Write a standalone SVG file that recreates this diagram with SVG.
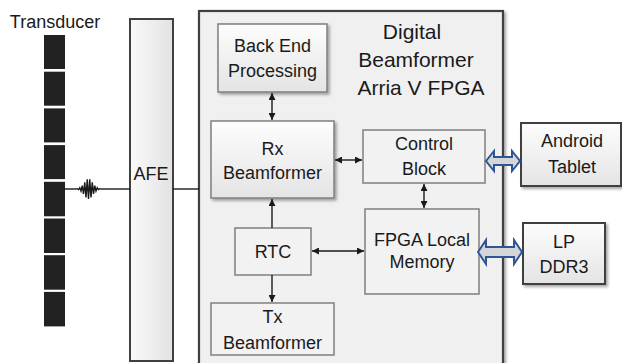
<svg xmlns="http://www.w3.org/2000/svg" width="622" height="363" viewBox="0 0 622 363">
<style>
text{font-family:"Liberation Sans",Arial,sans-serif;font-size:18px;fill:#1a1a1a;text-anchor:middle}
.title{font-size:21px}
.lt{text-anchor:start}
.g{fill:url(#grad);stroke:#7f7f7f;stroke-width:1.5}
.f{fill:#f2f2f2;stroke:#7f7f7f;stroke-width:1.5}
.d{fill:url(#grad);stroke:#404040;stroke-width:2}
.el{fill:#222}
.c{stroke:#1a1a1a;stroke-width:1.4;fill:none}
.ba{fill:#d4d6da;stroke:#2f5597;stroke-width:2;stroke-linejoin:miter}
</style>
<defs>
<linearGradient id="grad" x1="0" y1="0" x2="0" y2="1"><stop offset="0" stop-color="#fdfdfd"/><stop offset="1" stop-color="#e4e4e4"/></linearGradient>
<linearGradient id="gradh" x1="0" y1="0" x2="1" y2="0"><stop offset="0" stop-color="#fafafa"/><stop offset="1" stop-color="#e2e2e2"/></linearGradient>
<filter id="sh" x="-10%" y="-10%" width="130%" height="130%"><feDropShadow dx="2" dy="2" stdDeviation="1.5" flood-color="#000" flood-opacity="0.35"/></filter>
<marker id="ah" viewBox="0 0 8 8" refX="8" refY="4" markerWidth="7" markerHeight="7" markerUnits="userSpaceOnUse" orient="auto-start-reverse"><path d="M0,0 L8,4 L0,8 z" fill="#1a1a1a"/></marker>
</defs>

<g id="transducer">
<text x="55" y="28">Transducer</text>
<rect class="el" x="44" y="35" width="21" height="34"/>
<rect class="el" x="44" y="71.7" width="21" height="34"/>
<rect class="el" x="44" y="108.4" width="21" height="34"/>
<rect class="el" x="44" y="145.1" width="21" height="34"/>
<rect class="el" x="44" y="181.8" width="21" height="34.5"/>
<rect class="el" x="44" y="218.5" width="21" height="34.5"/>
<rect class="el" x="44" y="255.2" width="21" height="34.5"/>
<rect class="el" x="44" y="291.9" width="21" height="34.5"/>
</g>

<g id="afe">
<rect x="130" y="19" width="43" height="342" fill="url(#gradh)" stroke="#404040" stroke-width="2"/>
<text x="151" y="180">AFE</text>
</g>

<g id="fpga">
<rect x="199" y="11" width="304" height="360" fill="#f0f0f0" stroke="#404040" stroke-width="2.2" filter="url(#sh)"/>
<text class="title" x="412" y="39">Digital</text>
<text class="title" x="416" y="67">Beamformer</text>
<text class="title" x="421" y="95">Arria V FPGA</text>
</g>

<g id="backend">
<rect class="g" x="218" y="24" width="109" height="68" filter="url(#sh)"/>
<text x="272.5" y="52">Back End</text>
<text x="272.5" y="77">Processing</text>
</g>

<g id="rx">
<rect class="g" x="211" y="121" width="123" height="77" filter="url(#sh)"/>
<text x="272.5" y="155">Rx</text>
<text x="272.5" y="179">Beamformer</text>
</g>

<g id="control">
<rect class="f" x="363" y="130" width="122" height="53"/>
<text x="424" y="150">Control</text>
<text x="424" y="175">Block</text>
</g>

<g id="rtc">
<rect class="f" x="235" y="228" width="76" height="47"/>
<text x="273" y="258">RTC</text>
</g>

<g id="memory">
<rect class="f" x="365" y="209" width="114" height="85"/>
<text x="422" y="246">FPGA Local</text>
<text x="422" y="268">Memory</text>
</g>

<g id="tx">
<rect class="f" x="211" y="303" width="123" height="52"/>
<text x="272.5" y="323">Tx</text>
<text x="272.5" y="349">Beamformer</text>
</g>

<g id="android">
<rect class="d" x="521" y="123" width="100" height="63" filter="url(#sh)"/>
<text x="572" y="147">Android</text>
<text x="572" y="173">Tablet</text>
</g>

<g id="lpddr3">
<rect class="d" x="523" y="223" width="82" height="61" filter="url(#sh)"/>
<text x="564" y="248">LP</text>
<text x="564" y="273">DDR3</text>
</g>

<g id="connectors">
<path class="c" d="M64,189 H76"/>
<polyline class="c" stroke-width="1.2" points="76,189.1 77.25,188.7 78.5,189.6 79.75,187.8 81,191.1 82.25,185.6 83.5,194 84.75,182.2 86,197.4 87.25,179.4 88.5,199 89.75,179.4 91,197.4 92.25,182.2 93.5,194 94.75,185.6 96,191.1 97.25,187.8 98.5,189.6 99.75,188.7 101,189.1"/>
<path class="c" d="M101,189 H130"/>
<path class="c" d="M173,189 H199"/>
<path class="c" d="M272,93 V120" marker-start="url(#ah)" marker-end="url(#ah)"/>
<path class="c" d="M335,160 H362" marker-start="url(#ah)" marker-end="url(#ah)"/>
<path class="c" d="M424,184 V208" marker-start="url(#ah)" marker-end="url(#ah)"/>
<path class="c" d="M272,228 V199" marker-end="url(#ah)"/>
<path class="c" d="M272,275 V302" marker-end="url(#ah)"/>
<path class="c" d="M312,251 H364" marker-start="url(#ah)" marker-end="url(#ah)"/>
<path class="ba" d="M486,161 L494,151 L494,157 L512,157 L512,151 L520,161 L512,171 L512,165 L494,165 L494,171 Z"/>
<path class="ba" d="M478,252 L486,240 L486,247 L514,247 L514,240 L522,252 L514,264 L514,257 L486,257 L486,264 Z"/>
</g>
</svg>
